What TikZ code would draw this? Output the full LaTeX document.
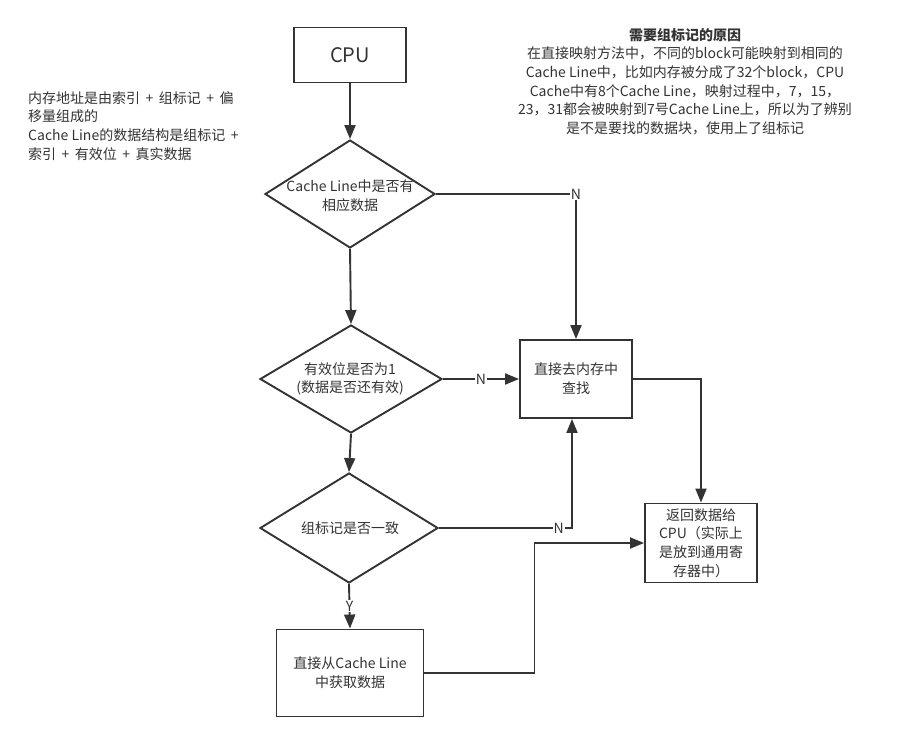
\documentclass[tikz,border=0pt]{standalone}
\usepackage{fontspec}
\setmainfont{Noto Sans CJK SC}
\usepackage{xcolor}
\usetikzlibrary{shapes.geometric, arrows.meta}

\definecolor{ink}{HTML}{333333}

\tikzset{
  box/.style={draw=ink, line width=1.9pt, rectangle, inner sep=0pt, text=ink,
    font=\fontsize{14}{18.7}\selectfont, align=center},
  decision/.style={draw=ink, line width=1.9pt, diamond, inner sep=0pt},
  txt/.style={text=ink, font=\fontsize{14}{18.7}\selectfont, align=center, inner sep=0pt},
  lbl/.style={fill=white, text=ink, font=\fontsize{14}{16}\selectfont, inner sep=1pt},
  flow/.style={draw=ink, line width=1.9pt, ->},
}

\begin{document}
\begin{tikzpicture}[x=1pt, y=-1pt, >={Triangle[length=14pt,width=11pt]}]

\useasboundingbox (0,0) rectangle (924,729);

% -------------------------
% Notes
% -------------------------
\node[txt, align=left, anchor=west] (addrNote) at (28,126) {内存地址是由索引 \,+\, 组标记 \,+\, 偏\\移量组成的\\Cache Line的数据结构是组标记 \,+\\索引 \,+\, 有效位 \,+\, 真实数据};

\node[txt] (tagNote) at (685,81.5) {\textbf{需要组标记的原因}\\在直接映射方法中，不同的block可能映射到相同的\\Cache Line中，比如内存被分成了32个block，CPU\\Cache中有8个Cache Line，映射过程中，7，15，\\23，31都会被映射到7号Cache Line上，所以为了辨别\\是不是要找的数据块，使用上了组标记};

% -------------------------
% Boxes
% -------------------------
\node[box, minimum width=112pt, minimum height=55pt, font=\fontsize{20}{24}\selectfont] (cpu) at (350,55) {CPU};
\node[box, minimum width=112pt, minimum height=78pt] (mem) at (576,379) {直接去内存中\\查找};
\node[box, minimum width=112pt, minimum height=79pt] (ret) at (701,543) {返回数据给\\CPU（实际上\\是放到通用寄\\存器中）};
\node[box, minimum width=147pt, minimum height=87pt] (getLine) at (350,673) {直接从Cache Line\\中获取数据};

% -------------------------
% Decisions
% -------------------------
\node[decision, minimum width=170pt, minimum height=108pt] (hasData) at (350,194) {};
\node[txt] (hasDataTxt) at (350,196) {Cache Line中是否有\\相应数据};

\node[decision, minimum width=182pt, minimum height=108pt] (valid) at (351,379) {};
\node[txt] (validTxt) at (350,379) {有效位是否为1\\(数据是否还有效)};

\node[decision, minimum width=178pt, minimum height=110pt] (tagSame) at (349,528) {};
\node[txt] (tagSameTxt) at (350,528) {组标记是否一致};

% -------------------------
% Connectors
% -------------------------
\draw[flow] (cpu.south) -- (hasData.north);
\draw[flow] (hasData.south) -- (valid.north);
\draw[flow] (valid.south) -- (tagSame.north);
\draw[flow] (tagSame.south) -- node[lbl] (yTag) {Y} (getLine.north);

\draw[flow] (hasData.east) -| node[lbl, pos=0.5] (nData) {N} (mem.north);
\draw[flow] (valid.east) -- node[lbl] (nValid) {N} (mem.west);
\draw[flow] (tagSame.east) -| node[lbl, pos=0.45] (nTag) {N} ([xshift=-4pt]mem.south);

\draw[flow] (mem.east) -| (ret.north);
\draw[flow] (getLine.east) -- ++(110,0) |- (ret.west);

\end{tikzpicture}
\end{document}
